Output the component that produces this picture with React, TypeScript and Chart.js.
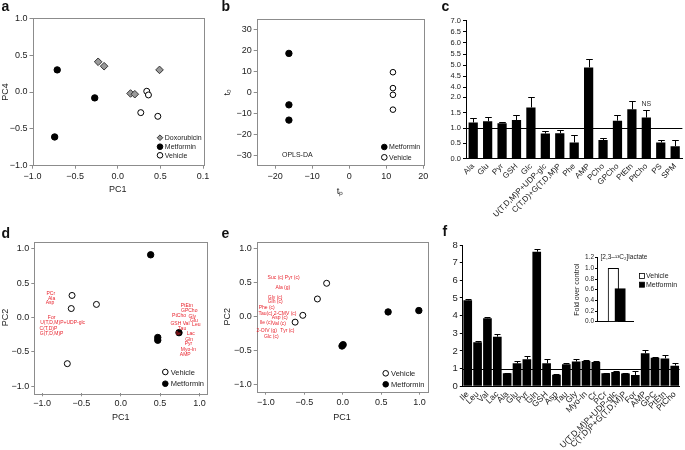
import React, { useEffect, useRef } from 'react';
import { Chart, registerables, LinearScale } from 'chart.js';

Chart.register(...registerables);

const FONT = "'Liberation Sans', Arial, Helvetica, sans-serif";
Chart.defaults.font.family = FONT;
Chart.defaults.color = '#222';

// ---------------- Panel a (PCA, PC1 vs PC4)
const A_DOXO_X = [-0.23, -0.16, 0.15, 0.2, 0.49];
const A_DOXO_Y = [0.41, 0.35, -0.02, -0.03, 0.3];
const A_MET_X = [-0.71, -0.27, -0.74];
const A_MET_Y = [0.3, -0.08, -0.61];
const A_VEH_X = [0.34, 0.36, 0.27, 0.47];
const A_VEH_Y = [0.01, -0.04, -0.28, -0.33];
const A_X_TICKS = [-1, -0.5, 0, 0.5, 1];
const A_X_TICK_LABELS = ['−1.0', '−0.5', '0.0', '0.5', '0.1'];
const A_Y_TICKS = [-1, -0.5, 0, 0.5, 1];
const A_Y_TICK_LABELS = ['−1.0', '−0.5', '0.0', '0.5', '1.0'];

// ---------------- Panel b (OPLS-DA)
const B_MET_X = [-16.3, -16.3, -16.3];
const B_MET_Y = [18.7, -5.9, -13.2];
const B_VEH_X = [11.8, 11.8, 11.8, 11.8];
const B_VEH_Y = [9.7, 2.1, -1.1, -8.2];
const B_X_TICKS = [-20, -10, 0, 10, 20];
const B_X_TICK_LABELS = ['−20', '−10', '0', '10', '20'];
const B_Y_TICKS = [-30, -20, -10, 0, 10, 20, 30];
const B_Y_TICK_LABELS = ['−30', '−20', '−10', '0', '10', '20', '30'];

// ---------------- Panel c (fold change, broken axis)
const C_LABELS = ['Ala', 'Glu', 'Pyr', 'GSH', 'Glc', 'U(T,D,M)P+UDP-glc', 'C(T,D)+G(T,D,M)P', 'Phe', 'AMP', 'PCho', 'GPCho', 'PtEtn', 'PtCho', 'PS', 'SPM'];
const C_VALUES = [1.18, 1.22, 1.16, 1.26, 1.67, 0.82, 0.83, 0.53, 4.9, 0.61, 1.24, 1.61, 1.34, 0.53, 0.41];
const C_ERRORS = [0.14, 0.13, 0.05, 0.15, 0.33, 0.07, 0.12, 0.24, 0.38, 0.06, 0.17, 0.26, 0.25, 0.07, 0.21];
const C_Y_TICKS = [0, 0.5, 1, 1.5, 2, 4, 4.5, 5, 5.5, 6, 6.5, 7];
const C_NS_LABEL = 'NS';
const C_NS_CATEGORY = 'PtCho';

// ---------------- Panel d (PCA loadings)
const D_VEH_X = [-0.62, -0.63, -0.31, -0.68];
const D_VEH_Y = [0.32, 0.13, 0.19, -0.67];
const D_MET_X = [0.38, 0.47, 0.47, 0.74];
const D_MET_Y = [0.91, -0.29, -0.33, -0.22];
const D_LOAD_NAMES = ['PCr', 'Ala', 'Asp', 'For', 'U(T,D,M)P+UDP-glc', 'C(T,D)P', 'G(T,D,M)P', 'PtEtn', 'GPCho', 'PtCho', 'Gly', 'Glu', 'GSH', 'Val', 'Leu', 'Tau', 'Ile', 'Lac', 'Gln', 'Pyr', 'Myo-In', 'AMP'];
const D_LOAD_X = [-0.89, -0.88, -0.9, -0.88, -0.74, -0.92, -0.88, 0.84, 0.87, 0.74, 0.91, 0.93, 0.7, 0.83, 0.96, 0.78, 0.73, 0.89, 0.87, 0.86, 0.86, 0.82];
const D_LOAD_Y = [0.34, 0.27, 0.21, 0.0, -0.07, -0.16, -0.23, 0.17, 0.1, 0.02, 0.01, -0.05, -0.09, -0.09, -0.11, -0.16, -0.24, -0.24, -0.32, -0.38, -0.46, -0.54];
const DE_TICKS = [-1, -0.5, 0, 0.5, 1];
const DE_TICK_LABELS = ['−1.0', '−0.5', '0.0', '0.5', '1.0'];

// ---------------- Panel e (13C PCA)
const E_VEH_X = [-0.21, -0.33, -0.52, -0.62];
const E_VEH_Y = [0.49, 0.26, 0.02, -0.08];
const E_MET_X = [-0.01, 0.005, 0.59, 0.99];
const E_MET_Y = [-0.43, -0.41, 0.07, 0.09];
const E_LOAD_NAMES = ['Suc (c) Pyr (c)', 'Ala (g)', 'Gly (c)', 'Gln (c)', 'Phe (c)', 'Tau(c) 2-CMV (c)', 'Asp (c)', 'Ile (c)', 'Val (c)', '2-OIV (g)', 'Tyr (c)', 'Glc (c)'];
const E_LOAD_X = [-0.77, -0.78, -0.88, -0.88, -0.99, -0.85, -0.82, -1.0, -0.83, -0.99, -0.72, -0.93];
const E_LOAD_Y = [0.58, 0.43, 0.28, 0.22, 0.14, 0.05, -0.02, -0.09, -0.1, -0.2, -0.2, -0.29];

// ---------------- Panel f (13C fold change)
const F_LABELS = ['Ile', 'Leu', 'Val', 'Lac', 'Ala', 'Glu', 'Pyr', 'Gln', 'GSH', 'Asp', 'Tau', 'Gly', 'Myo-In', 'Cr', 'PCr', 'U(T,D,M)P+UDP-glc', 'C(T,D)P+G(T,D,M)P', 'For', 'AMP', 'GPC', 'PtEtn', 'PtCho'];
const F_VALUES = [4.87, 2.49, 3.85, 2.81, 0.74, 1.3, 1.53, 7.62, 1.3, 0.66, 1.25, 1.4, 1.43, 1.38, 0.74, 0.81, 0.72, 0.64, 1.87, 1.62, 1.58, 1.17];
const F_ERRORS = [0.07, 0.09, 0.05, 0.13, 0.03, 0.12, 0.19, 0.13, 0.23, 0.03, 0.09, 0.13, 0.08, 0.07, 0.03, 0.05, 0.03, 0.21, 0.19, 0.06, 0.19, 0.17];
const F_Y_TICKS = [0, 1, 2, 3, 4, 5, 6, 7, 8];

// ---------------- Panel f inset
const INSET_GROUPS = ['Vehicle', 'Metformin'];
const INSET_VALUES = [1.0, 0.62];
const INSET_COLORS = ['#ffffff', '#000000'];
const INSET_Y_TICKS = [0, 0.2, 0.4, 0.6, 0.8, 1.0, 1.2];
const INSET_TITLE = '[2,3–¹³C₂]lactate';

const PANEL_LETTERS = ['a', 'b', 'c', 'd', 'e', 'f'];

// ---------------- broken axis scale for panel c
const BREAK_LOW = 2;
const BREAK_HIGH = 4;
const BREAK_GAP = 0.326;
const BREAK_SCALE = 0.725;
function brokenMap(v: number) {
  if (v <= BREAK_LOW) return v;
  if (v < BREAK_HIGH) return BREAK_LOW + ((v - BREAK_LOW) / (BREAK_HIGH - BREAK_LOW)) * BREAK_GAP;
  return BREAK_LOW + BREAK_GAP + (v - BREAK_HIGH) * BREAK_SCALE;
}
function brokenInv(d: number) {
  if (d <= BREAK_LOW) return d;
  if (d < BREAK_LOW + BREAK_GAP) return BREAK_LOW + ((d - BREAK_LOW) / BREAK_GAP) * (BREAK_HIGH - BREAK_LOW);
  return BREAK_HIGH + (d - BREAK_LOW - BREAK_GAP) / BREAK_SCALE;
}
class BrokenScale extends LinearScale {
  static id = 'broken';
  static defaults = LinearScale.defaults;
  getPixelForValue(value: any) {
    const lo = brokenMap((this as any).min);
    const hi = brokenMap((this as any).max);
    return (this as any).getPixelForDecimal((brokenMap(value) - lo) / (hi - lo));
  }
  getValueForPixel(pixel: number) {
    const lo = brokenMap((this as any).min);
    const hi = brokenMap((this as any).max);
    return brokenInv(lo + (this as any).getDecimalForPixel(pixel) * (hi - lo));
  }
}
Chart.register(BrokenScale as any);

type Pt = { x: number; y: number };
const zip = (xs: number[], ys: number[]): Pt[] => xs.map((x, i) => ({ x, y: ys[i] }));
type Shape = 'circle' | 'open' | 'diamond';

function drawMarker(ctx: CanvasRenderingContext2D, shape: Shape, x: number, y: number, r: number) {
  ctx.save();
  ctx.lineWidth = 1;
  ctx.beginPath();
  if (shape === 'diamond') {
    ctx.moveTo(x, y - r);
    ctx.lineTo(x + r, y);
    ctx.lineTo(x, y + r);
    ctx.lineTo(x - r, y);
    ctx.closePath();
    ctx.fillStyle = '#9a9a9a';
    ctx.fill();
    ctx.strokeStyle = '#333';
    ctx.stroke();
  } else {
    ctx.arc(x, y, r, 0, Math.PI * 2);
    ctx.fillStyle = shape === 'circle' ? '#000' : '#fff';
    ctx.fill();
    ctx.strokeStyle = '#000';
    ctx.stroke();
  }
  ctx.restore();
}

function datasetFor(data: Pt[], shape: Shape, r: number) {
  return {
    data,
    showLine: false,
    pointStyle: shape === 'diamond' ? 'rectRot' : 'circle',
    pointRadius: r,
    pointBackgroundColor: shape === 'circle' ? '#000' : shape === 'open' ? '#fff' : '#9a9a9a',
    pointBorderColor: shape === 'diamond' ? '#333' : '#000',
    pointBorderWidth: 1,
  };
}

interface ScatterSpec {
  sets: { data: Pt[]; shape: Shape; r: number }[];
  xMin: number; xMax: number; yMin: number; yMax: number;
  xTicks: number[]; xLabels: string[]; yTicks: number[]; yLabels: string[];
  xTitle: string; yTitle: string;
  W: number; H: number; padTop: number; padRight: number;
  xTitlePad: number; yTitlePad: number;
  tickSize: number; titleSize: number;
  legend: { text: string; shape: Shape; x: number; y: number }[];
  legendSize: number; legendX: number; legendR: number;
  notes?: { text: string; x: number; y: number }[];
  loadNames?: string[]; loadX?: number[]; loadY?: number[];
}

function makeScatter(canvas: HTMLCanvasElement, s: ScatterSpec) {
  const plugin = {
    id: 'scatterExtras',
    beforeDatasetsDraw(chart: any) {
      const { ctx, chartArea: a } = chart;
      ctx.save();
      ctx.strokeStyle = '#8c8c8c';
      ctx.lineWidth = 1;
      ctx.strokeRect(Math.round(a.left) + 0.5, Math.round(a.top) + 0.5, Math.round(a.right - a.left), Math.round(a.bottom - a.top));
      ctx.restore();
    },
    afterDatasetsDraw(chart: any) {
      const { ctx } = chart;
      const xs = chart.scales.x;
      const ys = chart.scales.y;
      ctx.save();
      if (s.loadNames && s.loadX && s.loadY) {
        ctx.fillStyle = '#e8232d';
        ctx.font = `5px ${FONT}`;
        ctx.textAlign = 'center';
        ctx.textBaseline = 'middle';
        s.loadNames.forEach((n, i) => {
          ctx.fillText(n, xs.getPixelForValue(s.loadX![i]), ys.getPixelForValue(s.loadY![i]));
        });
      }
      ctx.fillStyle = '#222';
      ctx.font = `${s.legendSize}px ${FONT}`;
      ctx.textAlign = 'left';
      ctx.textBaseline = 'middle';
      s.legend.forEach((it) => {
        drawMarker(ctx, it.shape, it.x, it.y, s.legendR);
        ctx.fillStyle = '#222';
        ctx.fillText(it.text, it.x + s.legendX, it.y + 0.5);
      });
      if (s.notes) {
        ctx.textAlign = 'center';
        s.notes.forEach((n) => ctx.fillText(n.text, n.x, n.y));
      }
      ctx.restore();
    },
  };
  const axisCommon = (min: number, max: number, ticks: number[], labels: string[]) => ({
    type: 'linear' as const,
    min,
    max,
    afterBuildTicks: (sc: any) => {
      sc.ticks = ticks.map((v) => ({ value: v }));
    },
    ticks: {
      autoSkip: false,
      maxRotation: 0,
      padding: 2,
      color: '#222',
      font: { size: s.tickSize },
      callback: (_v: any, i: number) => labels[i],
    },
    grid: { display: true, drawOnChartArea: false, drawTicks: true, tickLength: 3, color: '#8c8c8c' },
    border: { display: false },
  });
  return new Chart(canvas, {
    type: 'scatter',
    data: { datasets: s.sets.map((d) => datasetFor(d.data, d.shape, d.r)) as any },
    options: {
      responsive: false,
      animation: false,
      events: [],
      layout: { padding: { left: 0, top: s.padTop, right: s.padRight, bottom: 0 } },
      plugins: { legend: { display: false }, tooltip: { enabled: false } },
      scales: {
        x: {
          ...axisCommon(s.xMin, s.xMax, s.xTicks, s.xLabels),
          afterFit: (sc: any) => {
            sc.height = s.H;
          },
          title: { display: true, text: s.xTitle, color: '#222', font: { size: s.titleSize }, padding: { top: 0, bottom: s.xTitlePad } },
        },
        y: {
          ...axisCommon(s.yMin, s.yMax, s.yTicks, s.yLabels),
          afterFit: (sc: any) => {
            sc.width = s.W;
          },
          title: { display: true, text: s.yTitle, color: '#222', font: { size: s.titleSize }, padding: { top: s.yTitlePad, bottom: 0 } },
        },
      } as any,
    },
    plugins: [plugin],
  });
}

interface BarSpec {
  labels: string[]; values: number[]; errors: number[];
  yType: string; yMax: number; yTicks: number[]; yFmt: (v: number) => string;
  W: number; H: number; padTop: number; padRight: number;
  barPct: number; cap: number; tickSize: number; labelSize: number;
  ns?: { text: string; category: string };
}

function makeBars(canvas: HTMLCanvasElement, s: BarSpec) {
  const plugin = {
    id: 'barExtras',
    afterDatasetsDraw(chart: any) {
      const { ctx, chartArea: a } = chart;
      const ys = chart.scales.y;
      const meta = chart.getDatasetMeta(0);
      ctx.save();
      ctx.strokeStyle = '#000';
      ctx.lineWidth = 1;
      ctx.beginPath();
      meta.data.forEach((bar: any, i: number) => {
        const top = Math.round(ys.getPixelForValue(s.values[i] + s.errors[i])) + 0.5;
        const x = Math.round(bar.x) + 0.5;
        ctx.moveTo(x, bar.y);
        ctx.lineTo(x, top);
        ctx.moveTo(x - s.cap, top);
        ctx.lineTo(x + s.cap, top);
      });
      const y1 = Math.round(ys.getPixelForValue(1)) + 0.5;
      ctx.moveTo(a.left, y1);
      ctx.lineTo(a.right, y1);
      ctx.stroke();
      if (s.ns) {
        const idx = s.labels.indexOf(s.ns.category);
        const bar = meta.data[idx];
        ctx.fillStyle = '#333';
        ctx.font = `7px ${FONT}`;
        ctx.textAlign = 'center';
        ctx.textBaseline = 'bottom';
        ctx.fillText(s.ns.text, bar.x, ys.getPixelForValue(s.values[idx] + s.errors[idx]) - 2);
      }
      ctx.restore();
    },
  };
  return new Chart(canvas, {
    type: 'bar',
    data: {
      labels: s.labels,
      datasets: [{ data: s.values, backgroundColor: '#000', borderWidth: 0, barPercentage: s.barPct, categoryPercentage: 1 }],
    },
    options: {
      responsive: false,
      animation: false,
      events: [],
      layout: { padding: { left: 0, top: s.padTop, right: s.padRight, bottom: 0 } },
      plugins: { legend: { display: false }, tooltip: { enabled: false } },
      scales: {
        x: {
          type: 'category',
          offset: true,
          afterFit: (sc: any) => {
            sc.height = s.H;
          },
          grid: { display: false, drawTicks: false },
          border: { display: true, color: '#000', width: 1 },
          ticks: { autoSkip: false, minRotation: 45, maxRotation: 45, padding: 3, color: '#222', font: { size: s.labelSize } },
        },
        y: {
          type: s.yType,
          min: 0,
          max: s.yMax,
          afterBuildTicks: (sc: any) => {
            sc.ticks = s.yTicks.map((v) => ({ value: v }));
          },
          afterFit: (sc: any) => {
            sc.width = s.W;
          },
          grid: { display: true, drawOnChartArea: false, drawTicks: true, tickLength: 3, color: '#000' },
          border: { display: true, color: '#000', width: 1 },
          ticks: { autoSkip: false, padding: 2, color: '#222', font: { size: s.tickSize }, callback: (v: any) => s.yFmt(Number(v)) },
        },
      } as any,
    },
    plugins: [plugin],
  });
}

function makeInset(canvas: HTMLCanvasElement) {
  const plugin = {
    id: 'insetExtras',
    afterDatasetsDraw(chart: any) {
      const { ctx } = chart;
      ctx.save();
      ctx.fillStyle = '#222';
      ctx.font = `6.5px ${FONT}`;
      ctx.textAlign = 'center';
      ctx.textBaseline = 'middle';
      ctx.fillText(INSET_TITLE, 54, 7.5);
      ctx.font = `7px ${FONT}`;
      ctx.textAlign = 'left';
      INSET_GROUPS.forEach((g, i) => {
        const y = 26 + i * 8.7;
        ctx.fillStyle = INSET_COLORS[i];
        ctx.fillRect(69.5, y - 2.5, 5, 5);
        ctx.strokeStyle = '#000';
        ctx.lineWidth = 0.8;
        ctx.strokeRect(69.5, y - 2.5, 5, 5);
        ctx.fillStyle = '#222';
        ctx.fillText(g, 76, y + 0.5);
      });
      ctx.restore();
    },
  };
  return new Chart(canvas, {
    type: 'bar',
    data: {
      datasets: [
        {
          data: INSET_VALUES.map((v, i) => ({ x: i, y: v })),
          backgroundColor: INSET_COLORS,
          borderColor: '#000',
          borderWidth: 1,
          barThickness: 10.5,
        },
      ],
    },
    options: {
      responsive: false,
      animation: false,
      events: [],
      layout: { padding: { left: 0, top: 7.7, right: 47, bottom: 0 } },
      plugins: { legend: { display: false }, tooltip: { enabled: false } },
      scales: {
        x: {
          type: 'linear',
          min: -1.08,
          max: 1.57,
          afterFit: (sc: any) => {
            sc.height = 8.3;
          },
          ticks: { display: false },
          grid: { display: false, drawTicks: false },
          border: { display: true, color: '#000', width: 1 },
        },
        y: {
          type: 'linear',
          min: 0,
          max: 1.2,
          afterBuildTicks: (sc: any) => {
            sc.ticks = INSET_Y_TICKS.map((v) => ({ value: v }));
          },
          afterFit: (sc: any) => {
            sc.width = 27;
          },
          grid: { display: true, drawOnChartArea: false, drawTicks: true, tickLength: 2, color: '#000' },
          border: { display: true, color: '#000', width: 1 },
          ticks: { autoSkip: false, padding: 1, color: '#222', font: { size: 6.5 }, callback: (v: any) => Number(v).toFixed(1) },
          title: { display: true, text: 'Fold over control', color: '#222', font: { size: 7 }, padding: { top: 2.5, bottom: 0 } },
        },
      } as any,
    },
    plugins: [plugin],
  });
}

const buildA = (c: HTMLCanvasElement) =>
  makeScatter(c, {
    sets: [
      { data: zip(A_DOXO_X, A_DOXO_Y), shape: 'diamond', r: 3.8 },
      { data: zip(A_MET_X, A_MET_Y), shape: 'circle', r: 3.2 },
      { data: zip(A_VEH_X, A_VEH_Y), shape: 'open', r: 3 },
    ],
    xMin: -1, xMax: 1, yMin: -1, yMax: 1,
    xTicks: A_X_TICKS, xLabels: A_X_TICK_LABELS, yTicks: A_Y_TICKS, yLabels: A_Y_TICK_LABELS,
    xTitle: 'PC1', yTitle: 'PC4',
    W: 32.5, H: 34.3, padTop: 18.3, padRight: 19, xTitlePad: 4.6, yTitlePad: 0,
    tickSize: 9, titleSize: 9,
    legend: [
      { text: 'Doxorubicin', shape: 'diamond', x: 160, y: 137.7 },
      { text: 'Metformin', shape: 'circle', x: 160, y: 146.7 },
      { text: 'Vehicle', shape: 'open', x: 160, y: 155.3 },
    ],
    legendSize: 7, legendX: 4.8, legendR: 2.8,
  });

const buildB = (c: HTMLCanvasElement) =>
  makeScatter(c, {
    sets: [
      { data: zip(B_MET_X, B_MET_Y), shape: 'circle', r: 3.2 },
      { data: zip(B_VEH_X, B_VEH_Y), shape: 'open', r: 2.8 },
    ],
    xMin: -25, xMax: 20, yMin: -35, yMax: 35,
    xTicks: B_X_TICKS, xLabels: B_X_TICK_LABELS, yTicks: B_Y_TICKS, yLabels: B_Y_TICK_LABELS,
    xTitle: 'tₚ', yTitle: 'tₒ',
    W: 34.7, H: 34.3, padTop: 19.3, padRight: 20.7, xTitlePad: 3, yTitlePad: 0,
    tickSize: 9, titleSize: 9.5,
    legend: [
      { text: 'Metformin', shape: 'circle', x: 162.3, y: 147 },
      { text: 'Vehicle', shape: 'open', x: 162.3, y: 157.3 },
    ],
    legendSize: 7, legendX: 4.8, legendR: 2.8,
    notes: [{ text: 'OPLS-DA', x: 75.3, y: 155.3 }],
  });

const buildD = (c: HTMLCanvasElement) =>
  makeScatter(c, {
    sets: [
      { data: zip(D_VEH_X, D_VEH_Y), shape: 'open', r: 3 },
      { data: zip(D_MET_X, D_MET_Y), shape: 'circle', r: 3.2 },
    ],
    xMin: -1.1, xMax: 1.1, yMin: -1.1, yMax: 1.1,
    xTicks: DE_TICKS, xLabels: DE_TICK_LABELS, yTicks: DE_TICKS, yLabels: DE_TICK_LABELS,
    xTitle: 'PC1', yTitle: 'PC2',
    W: 34.3, H: 56.7, padTop: 16.7, padRight: 14.7, xTitlePad: 27, yTitlePad: 0,
    tickSize: 9, titleSize: 9,
    legend: [
      { text: 'Vehicle', shape: 'open', x: 165.3, y: 147 },
      { text: 'Metformin', shape: 'circle', x: 165.3, y: 158.7 },
    ],
    legendSize: 7.5, legendX: 5.4, legendR: 2.8,
    loadNames: D_LOAD_NAMES, loadX: D_LOAD_X, loadY: D_LOAD_Y,
  });

const buildE = (c: HTMLCanvasElement) =>
  makeScatter(c, {
    sets: [
      { data: zip(E_VEH_X, E_VEH_Y), shape: 'open', r: 3 },
      { data: zip(E_MET_X, E_MET_Y), shape: 'circle', r: 3.2 },
    ],
    xMin: -1.12, xMax: 1.1, yMin: -1.1, yMax: 1.1,
    xTicks: DE_TICKS, xLabels: DE_TICK_LABELS, yTicks: DE_TICKS, yLabels: DE_TICK_LABELS,
    xTitle: 'PC1', yTitle: 'PC2',
    W: 34.7, H: 58.3, padTop: 16.7, padRight: 16.7, xTitlePad: 27, yTitlePad: 0,
    tickSize: 9, titleSize: 9,
    legend: [
      { text: 'Vehicle', shape: 'open', x: 163.7, y: 148.3 },
      { text: 'Metformin', shape: 'circle', x: 163.7, y: 159.3 },
    ],
    legendSize: 7.5, legendX: 5.4, legendR: 2.8,
    loadNames: E_LOAD_NAMES, loadX: E_LOAD_X, loadY: E_LOAD_Y,
  });

const buildC = (c: HTMLCanvasElement) =>
  makeBars(c, {
    labels: C_LABELS, values: C_VALUES, errors: C_ERRORS,
    yType: 'broken', yMax: 7, yTicks: C_Y_TICKS, yFmt: (v) => v.toFixed(1),
    W: 22, H: 66.3, padTop: 20.7, padRight: 1,
    barPct: 0.64, cap: 3.3, tickSize: 7.5, labelSize: 8,
    ns: { text: C_NS_LABEL, category: C_NS_CATEGORY },
  });

const buildF = (c: HTMLCanvasElement) =>
  makeBars(c, {
    labels: F_LABELS, values: F_VALUES, errors: F_ERRORS,
    yType: 'linear', yMax: 8, yTicks: F_Y_TICKS, yFmt: (v) => v.toFixed(0),
    W: 18.8, H: 63.7, padTop: 20, padRight: 2.2,
    barPct: 0.88, cap: 3, tickSize: 9.5, labelSize: 8.5,
  });

function ChartCanvas(props: { left: number; top: number; width: number; height: number; build: (c: HTMLCanvasElement) => Chart }) {
  const ref = useRef<HTMLCanvasElement>(null);
  useEffect(() => {
    const chart = props.build(ref.current!);
    return () => chart.destroy();
  }, []);
  return (
    <canvas
      ref={ref}
      width={props.width}
      height={props.height}
      style={{ position: 'absolute', left: props.left, top: props.top, width: props.width, height: props.height }}
    />
  );
}

const LETTER_POS = [
  [1.5, -1.5],
  [221.5, -1.5],
  [441.5, -1.5],
  [1.5, 226.3],
  [221.5, 226.3],
  [442.5, 223.5],
];

export default function App() {
  return (
    <div style={{ position: 'absolute', left: 0, top: 0, width: 685, height: 450, background: '#fff', overflow: 'hidden', fontFamily: FONT }}>
      <ChartCanvas left={0} top={0} width={222} height={200} build={buildA} />
      <ChartCanvas left={222} top={0} width={222} height={200} build={buildB} />
      <ChartCanvas left={444} top={0} width={241} height={225} build={buildC} />
      <ChartCanvas left={0} top={225} width={222} height={225} build={buildD} />
      <ChartCanvas left={222} top={225} width={222} height={225} build={buildE} />
      <ChartCanvas left={444} top={225} width={241} height={225} build={buildF} />
      <ChartCanvas left={570} top={250} width={110} height={80} build={makeInset} />
      {PANEL_LETTERS.map((l, i) => (
        <div
          key={l}
          style={{ position: 'absolute', left: LETTER_POS[i][0], top: LETTER_POS[i][1], fontSize: 14, lineHeight: '14px', fontWeight: 'bold', color: '#111' }}
        >
          {l}
        </div>
      ))}
    </div>
  );
}
